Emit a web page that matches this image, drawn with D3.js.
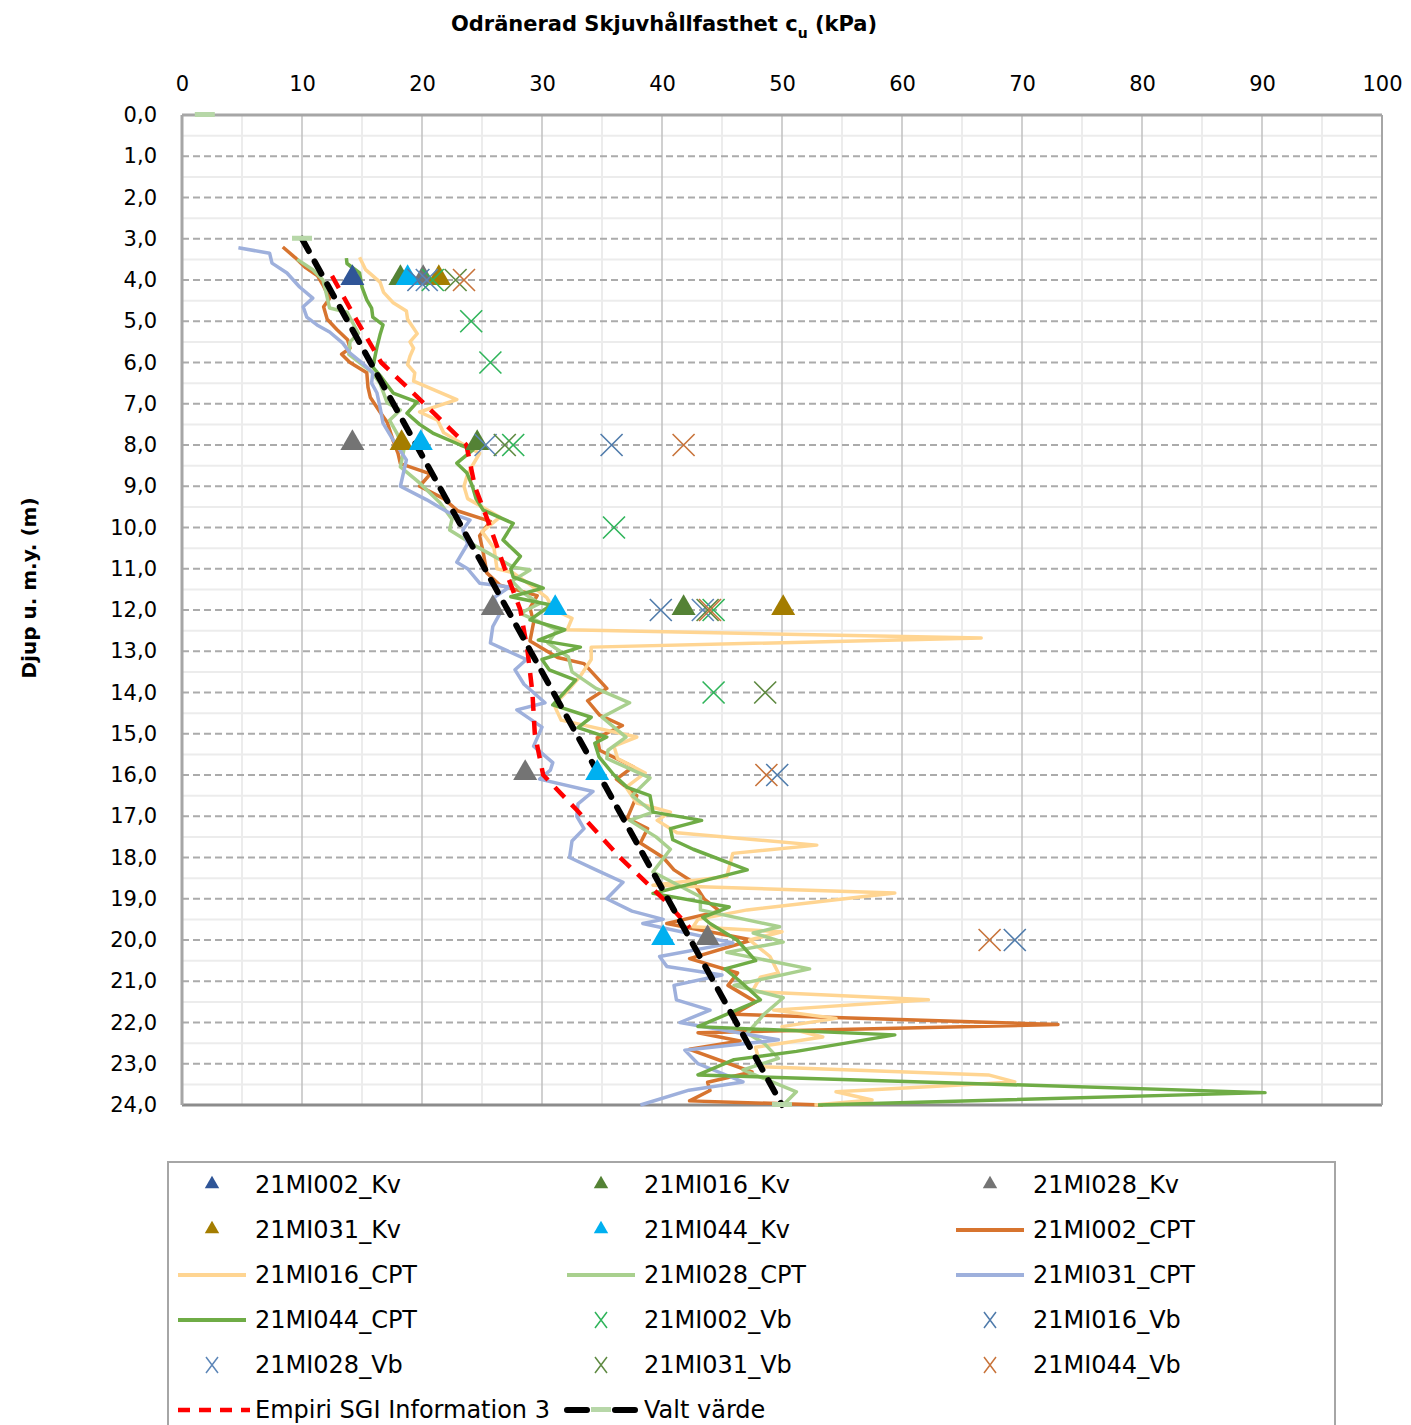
<!DOCTYPE html>
<html>
<head>
<meta charset="utf-8">
<script src="https://cdn.jsdelivr.net/npm/d3@7"></script>
<style>
  body { margin: 0; background: #fff; }
  svg text { font-family: "DejaVu Sans", Verdana, sans-serif; }
</style>
</head>
<body>
<div id="chart"></div>
<script>
// tick values
const xTicks = [0, 10, 20, 30, 40, 50, 60, 70, 80, 90, 100];
const yTicks = d3.range(0, 25, 1);

// vingförsök / konförsök points: [depth, cu]
const kv002 = [[4, 14.2]];
const kv016 = [[4, 18.2], [8, 24.6], [12, 41.8]];
const kv028 = [[4, 20.1], [8, 14.2], [12, 25.9], [16, 28.6], [20, 43.8]];
const kv031 = [[4, 21.4], [8, 18.3], [12, 50.1]];
const kv044 = [[4, 18.8], [8, 19.9], [12, 31.1], [16, 34.6], [20, 40.1]];

const vb002 = [[4, 20.9], [5, 24.1], [6, 25.7], [8, 27.6], [10, 36.0], [12, 44.3], [14, 44.3]];
const vb016 = [[4, 19.7], [8, 35.8], [12, 39.9], [16, 49.6], [20, 69.4]];
const vb028 = [[4, 20.4], [8, 25.3], [12, 43.4]];
const vb031 = [[4, 22.8], [8, 26.9], [12, 43.8], [14, 48.6]];
const vb044 = [[4, 23.5], [8, 41.8], [12, 44.0], [16, 48.7], [20, 67.3]];

// CPT profiles: [depth, cu]
const cpt002 = [[3.2,8.4],[3.45,9.4],[3.7,10.3],[3.9,11.3],[4.15,11.8],[4.45,12.3],[4.65,11.8],[4.95,12.1],[5.2,12.9],[5.45,13.8],[5.65,14.0],[5.8,13.3],[6.0,14.0],[6.25,15.4],[6.6,15.5],[6.85,15.7],[7.2,16.5],[7.45,17.1],[7.9,17.6],[8.2,18.0],[8.45,18.2],[8.7,20.7],[9.0,19.8],[9.3,21.8],[9.6,23.0],[9.85,25.7],[10.2,24.8],[10.6,25.1],[11.1,25.4],[11.4,26.5],[11.65,29.6],[11.95,29.0],[12.3,29.3],[12.75,29.0],[13.15,31.3],[13.3,33.5],[13.9,35.4],[14.2,33.8],[14.55,34.8],[14.8,36.7],[15.1,34.6],[15.4,34.8],[15.8,37.6],[16.1,36.2],[16.5,37.9],[17.05,37.1],[17.3,38.8],[17.65,38.2],[18.0,40.1],[18.3,41.0],[18.6,42.6],[19.0,43.5],[19.3,44.8],[19.6,40.4],[20.0,47.5],[20.45,42.3],[20.8,46.3],[21.1,45.5],[21.5,47.8],[21.8,46.0],[22.05,73.0],[22.25,43.0],[22.45,46.5],[22.65,42.3],[23.2,47.5],[23.45,43.8],[23.65,44.0],[23.9,42.3],[24.0,53.4]];

const cpt016 = [[3.45,14.8],[3.75,15.3],[4.05,16.5],[4.3,16.8],[4.55,17.6],[4.75,18.7],[4.95,18.8],[5.3,19.6],[5.5,19.0],[5.65,19.3],[5.85,19.0],[6.05,18.8],[6.25,19.4],[6.45,19.3],[6.9,22.9],[7.2,19.8],[7.4,21.3],[7.7,21.8],[8.05,23.8],[8.2,24.8],[8.7,23.8],[9.0,23.5],[9.3,23.8],[9.75,26.5],[10.1,25.0],[10.5,26.0],[11.0,26.25],[11.1,27.6],[11.44,29.25],[11.7,30.4],[12.0,31.0],[12.2,32.5],[12.48,32.1],[12.68,66.6],[12.9,34.1],[13.2,34.1],[13.6,33.2],[14.0,32.0],[14.3,31.0],[14.67,31.6],[15.08,37.9],[15.3,36.0],[15.6,36.3],[15.95,38.6],[16.3,37.0],[16.68,37.9],[16.9,40.7],[17.1,39.6],[17.4,41.25],[17.7,52.9],[17.9,45.9],[18.46,45.4],[18.67,39.25],[18.86,59.4],[19.27,47.1],[19.5,43.0],[19.68,42.6],[19.8,50.0],[20.0,47.3],[20.4,49.0],[20.8,49.7],[20.9,48.2],[21.25,47.5],[21.45,62.2],[21.7,49.3],[21.9,54.5],[22.1,50.0],[22.35,53.4],[22.6,47.8],[23.07,48.2],[23.27,67.2],[23.44,69.4],[23.68,54.5],[23.88,57.5],[24.0,52.7]];

const cpt028 = [[3.5,9.6],[3.75,10.9],[4.0,11.75],[4.3,12.0],[4.68,12.3],[4.78,13.75],[5.29,14.7],[5.5,14.0],[5.8,13.9],[6.0,14.8],[6.23,15.8],[6.5,16.5],[6.98,17.1],[7.15,18.2],[7.4,17.3],[7.71,17.9],[8.1,18.5],[8.53,18.2],[8.92,19.8],[9.4,21.5],[9.8,22.5],[10.06,22.3],[10.47,24.6],[10.96,27.6],[11.03,29.0],[11.3,27.5],[11.6,28.5],[11.84,29.8],[12.08,28.2],[12.48,31.25],[12.8,30.5],[13.14,32.2],[13.5,32.5],[13.9,34.5],[14.25,37.3],[14.6,35.0],[15.08,37.0],[15.4,35.5],[15.6,35.4],[16.07,39.0],[16.5,37.5],[16.9,39.25],[17.1,37.3],[17.5,39.5],[17.8,40.7],[18.35,39.25],[18.95,43.2],[19.27,43.2],[19.68,49.8],[19.83,47.6],[20.05,50.1],[20.3,45.4],[20.7,52.3],[21.1,46.0],[21.4,50.1],[21.8,48.5],[22.26,47.1],[22.5,48.5],[22.87,49.7],[23.15,46.75],[23.68,51.2],[24.0,50.1]];

const cpt031 = [[3.22,4.7],[3.35,7.3],[3.59,7.5],[3.83,8.75],[4.17,9.8],[4.44,10.9],[4.65,10.1],[4.9,10.4],[5.09,11.25],[5.26,12.3],[5.53,13.4],[5.77,14.0],[6.01,15.0],[6.25,15.9],[6.5,15.8],[6.74,16.25],[7.08,16.5],[7.47,16.75],[7.88,17.6],[8.36,18.7],[9.0,18.2],[9.33,20.4],[9.62,22.1],[9.82,24.0],[10.06,23.4],[10.4,23.8],[10.84,22.9],[11.0,23.8],[11.35,24.8],[11.44,27.3],[11.7,26.0],[12.08,26.5],[12.4,25.9],[12.8,25.7],[13.2,28.7],[13.45,27.75],[13.8,28.5],[14.25,30.25],[14.42,27.9],[14.84,30.0],[15.3,29.3],[15.7,30.9],[15.88,30.7],[16.1,29.8],[16.4,34.25],[16.7,33.0],[17.0,32.9],[17.3,33.5],[17.6,32.5],[18.0,32.3],[18.3,34.5],[18.6,36.75],[19.0,35.4],[19.3,37.5],[19.5,40.1],[19.6,38.4],[20.07,45.9],[20.4,39.8],[20.64,40.4],[20.85,45.0],[21.1,41.0],[21.45,41.2],[21.7,44.0],[22.0,41.5],[22.42,49.7],[22.67,41.9],[23.0,43.0],[23.44,46.75],[23.64,42.25],[24.0,38.2]];

const cpt044 = [[3.47,13.7],[3.6,13.75],[3.83,14.8],[4.17,15.0],[4.48,15.4],[4.68,15.8],[4.9,15.9],[5.09,16.75],[5.33,16.5],[5.62,16.25],[6.11,15.9],[6.35,16.6],[6.74,17.6],[6.96,19.6],[7.23,18.75],[7.5,19.8],[7.71,20.9],[8.0,23.2],[8.12,24.25],[8.44,22.9],[8.68,23.75],[9.0,24.2],[9.3,24.5],[9.58,25.1],[9.9,27.6],[10.3,26.75],[10.7,28.2],[11.0,27.4],[11.2,27.6],[11.47,30.1],[11.68,27.4],[11.88,30.75],[12.24,29.0],[12.48,31.9],[12.73,29.7],[12.9,33.2],[13.2,30.0],[13.45,30.6],[13.7,32.8],[14.3,30.9],[14.6,34.1],[14.85,33.0],[15.08,35.4],[15.23,34.4],[15.56,34.75],[16.0,36.0],[16.3,37.1],[16.5,39.0],[16.9,39.25],[17.1,43.3],[17.3,40.7],[17.57,40.9],[17.8,42.6],[18.3,47.1],[18.87,39.25],[19.2,45.6],[19.45,43.4],[19.6,44.0],[20.0,46.25],[20.5,47.8],[20.7,45.25],[21.0,46.5],[21.45,48.2],[22.1,43.0],[22.3,59.4],[22.7,51.2],[22.9,46.0],[23.27,43.0],[23.7,90.25],[24.0,53.0]];

const empiri = [[3.9,12.5],[5,14.6],[6,16.6],[7,20.2],[8,23.7],[9,24.4],[10,25.7],[11,26.9],[12,28.2],[13,28.8],[14,29.2],[15,29.4],[16,30.1],[16.85,32.9],[18,36.5],[19,40.1],[19.7,42.3]];
const valt = [[3, 10], [24, 50]];
const valtMarkers = [[0, 1.9], [3, 10], [24, 50]];

const width = 1411, height = 1425;
const plot = { left: 182, right: 1382, top: 115, bottom: 1105 };

const x = d3.scaleLinear().domain([0, 100]).range([plot.left, plot.right]);
const y = d3.scaleLinear().domain([0, 24]).range([plot.top, plot.bottom]);

const svg = d3.select("#chart").append("svg")
  .attr("width", width)
  .attr("height", height);

// grid
const grid = svg.append("g");
grid.selectAll(".vminor").data(d3.range(5, 100, 10)).enter().append("line")
  .attr("x1", d => x(d)).attr("x2", d => x(d))
  .attr("y1", plot.top).attr("y2", plot.bottom)
  .attr("stroke", "#e6e6e6").attr("stroke-width", 1.5);
grid.selectAll(".hminor").data(d3.range(0.5, 24, 1)).enter().append("line")
  .attr("x1", plot.left).attr("x2", plot.right)
  .attr("y1", d => y(d)).attr("y2", d => y(d))
  .attr("stroke", "#ececec").attr("stroke-width", 2);
grid.selectAll(".vmajor").data(xTicks.slice(1, -1)).enter().append("line")
  .attr("x1", d => x(d)).attr("x2", d => x(d))
  .attr("y1", plot.top).attr("y2", plot.bottom)
  .attr("stroke", "#c0c0c0").attr("stroke-width", 1.5);
grid.selectAll(".hmajor").data(yTicks.slice(1, -1)).enter().append("line")
  .attr("x1", plot.left).attr("x2", plot.right)
  .attr("y1", d => y(d)).attr("y2", d => y(d))
  .attr("stroke", "#ababab").attr("stroke-width", 2)
  .attr("stroke-dasharray", "7,4");

// frame
svg.append("line").attr("x1", plot.left).attr("x2", plot.right).attr("y1", plot.top).attr("y2", plot.top)
  .attr("stroke", "#a6a6a6").attr("stroke-width", 3);
svg.append("line").attr("x1", plot.left).attr("x2", plot.right).attr("y1", plot.bottom).attr("y2", plot.bottom)
  .attr("stroke", "#8c8c8c").attr("stroke-width", 3);
svg.append("line").attr("x1", plot.right).attr("x2", plot.right).attr("y1", plot.top).attr("y2", plot.bottom)
  .attr("stroke", "#a6a6a6").attr("stroke-width", 2);
svg.append("line").attr("x1", plot.left).attr("x2", plot.left).attr("y1", plot.top).attr("y2", plot.bottom)
  .attr("stroke", "#a6a6a6").attr("stroke-width", 3);

// axes (labels only)
const xAxis = svg.append("g")
  .attr("transform", `translate(0,${plot.top})`)
  .call(d3.axisTop(x).tickValues(xTicks).tickSize(0).tickPadding(24));
const yAxis = svg.append("g")
  .attr("transform", `translate(${plot.left},0)`)
  .call(d3.axisLeft(y).tickValues(yTicks).tickSize(0).tickPadding(25)
    .tickFormat(d => d.toFixed(1).replace(".", ",")));
[xAxis, yAxis].forEach(a => {
  a.select(".domain").remove();
  a.selectAll("text").style("font-size", "21px").attr("fill", "#000")
    .style("font-family", "'DejaVu Sans', Verdana, sans-serif");
});

// titles
const title = svg.append("text")
  .attr("x", 664).attr("y", 31)
  .attr("text-anchor", "middle")
  .style("font-size", "21px").style("font-weight", "bold");
title.append("tspan").text("Odränerad Skjuvhållfasthet c");
title.append("tspan").attr("dy", 7).style("font-size", "14px").text("u");
title.append("tspan").attr("dy", -7).text(" (kPa)");

svg.append("text")
  .attr("transform", "translate(36,588) rotate(-90)")
  .attr("text-anchor", "middle")
  .style("font-size", "20px").style("font-weight", "bold")
  .text("Djup u. m.y. (m)");

// series definitions
const cptSeries = [
  { name: "21MI002_CPT", data: cpt002, color: "#d7742f" },
  { name: "21MI016_CPT", data: cpt016, color: "#ffd592" },
  { name: "21MI028_CPT", data: cpt028, color: "#a9d08e" },
  { name: "21MI031_CPT", data: cpt031, color: "#9eb0dc" },
  { name: "21MI044_CPT", data: cpt044, color: "#6fac46" }
];
const kvSeries = [
  { name: "21MI002_Kv", data: kv002, color: "#2f5597" },
  { name: "21MI016_Kv", data: kv016, color: "#548235" },
  { name: "21MI028_Kv", data: kv028, color: "#747474" },
  { name: "21MI031_Kv", data: kv031, color: "#a47d00" },
  { name: "21MI044_Kv", data: kv044, color: "#00b0f0" }
];
const vbSeries = [
  { name: "21MI002_Vb", data: vb002, color: "#2fb45a" },
  { name: "21MI016_Vb", data: vb016, color: "#4f7bab" },
  { name: "21MI028_Vb", data: vb028, color: "#5d86b8" },
  { name: "21MI031_Vb", data: vb031, color: "#5f8a42" },
  { name: "21MI044_Vb", data: vb044, color: "#c8733a" }
];

const line = d3.line().x(d => x(d[1])).y(d => y(d[0]));
const tri = d3.symbol().type(d3.symbolTriangle);

cptSeries.forEach(s => {
  svg.append("path").attr("d", line(s.data))
    .attr("fill", "none").attr("stroke", s.color)
    .attr("stroke-width", 3.5).attr("stroke-linejoin", "round");
});

svg.append("path").attr("d", line(empiri))
  .attr("fill", "none").attr("stroke", "#ff0000")
  .attr("stroke-width", 4.5).attr("stroke-dasharray", "14,10");

svg.append("path").attr("d", line(valt))
  .attr("fill", "none").attr("stroke", "#000")
  .attr("stroke-width", 6).attr("stroke-dasharray", "14,12")
  .attr("stroke-linecap", "round");

svg.selectAll(".valtm").data(valtMarkers).enter().append("rect")
  .attr("x", d => x(d[1]) - 10).attr("y", d => y(d[0]) - 3)
  .attr("width", 20).attr("height", 5)
  .attr("fill", "#b7d7a8");

function drawCross(g, cx, cy, r, color, w) {
  g.append("path")
    .attr("d", `M${cx - r},${cy - r}L${cx + r},${cy + r}M${cx - r},${cy + r}L${cx + r},${cy - r}`)
    .attr("stroke", color).attr("stroke-width", w).attr("fill", "none");
}

kvSeries.forEach(s => {
  svg.append("g").selectAll("path").data(s.data).enter().append("path")
    .attr("d", tri.size(250))
    .attr("transform", d => `translate(${x(d[1])},${y(d[0]) - 2})`)
    .attr("fill", s.color);
});

vbSeries.forEach(s => {
  const g = svg.append("g");
  s.data.forEach(d => drawCross(g, x(d[1]), y(d[0]), 11, s.color, 1.6));
});

// legend
const lg = svg.append("g");
lg.append("rect").attr("x", 168).attr("y", 1162).attr("width", 1167).attr("height", 300)
  .attr("fill", "#fff").attr("stroke", "#a6a6a6").attr("stroke-width", 2);

const legendItems = [
  ...kvSeries.map(s => ({ ...s, type: "kv" })),
  ...cptSeries.map(s => ({ ...s, type: "cpt" })),
  ...vbSeries.map(s => ({ ...s, type: "vb" })),
  { name: "Empiri SGI Information 3", type: "empiri" },
  { name: "Valt värde", type: "valt" }
];
const colX = [212, 601, 990];
legendItems.forEach((it, i) => {
  const cx = colX[i % 3], cy = 1185 + 45 * Math.floor(i / 3);
  if (it.type === "kv") {
    lg.append("path").attr("d", d3.symbol().type(d3.symbolTriangle).size(90))
      .attr("transform", `translate(${cx},${cy - 1})`).attr("fill", it.color);
  } else if (it.type === "cpt") {
    lg.append("line").attr("x1", cx - 34).attr("x2", cx + 34).attr("y1", cy).attr("y2", cy)
      .attr("stroke", it.color).attr("stroke-width", 4);
  } else if (it.type === "vb") {
    lg.append("path").attr("d", `M${cx - 6},${cy - 8}L${cx + 6},${cy + 8}M${cx - 6},${cy + 8}L${cx + 6},${cy - 8}`)
      .attr("stroke", it.color).attr("stroke-width", 1.5);
  } else if (it.type === "empiri") {
    lg.append("line").attr("x1", cx - 34).attr("x2", cx + 38).attr("y1", cy).attr("y2", cy)
      .attr("stroke", "#ff0000").attr("stroke-width", 4.5).attr("stroke-dasharray", "12,9");
  } else {
    lg.append("line").attr("x1", cx - 34).attr("x2", cx + 34).attr("y1", cy).attr("y2", cy)
      .attr("stroke", "#000").attr("stroke-width", 6).attr("stroke-dasharray", "20,28")
      .attr("stroke-linecap", "round");
    lg.append("rect").attr("x", cx - 10).attr("y", cy - 3).attr("width", 20).attr("height", 5)
      .attr("fill", "#b7d7a8");
  }
  lg.append("text").attr("x", cx + 43).attr("y", cy)
    .attr("dominant-baseline", "central")
    .style("font-size", "24px").text(it.name);
});
</script>
</body>
</html>
